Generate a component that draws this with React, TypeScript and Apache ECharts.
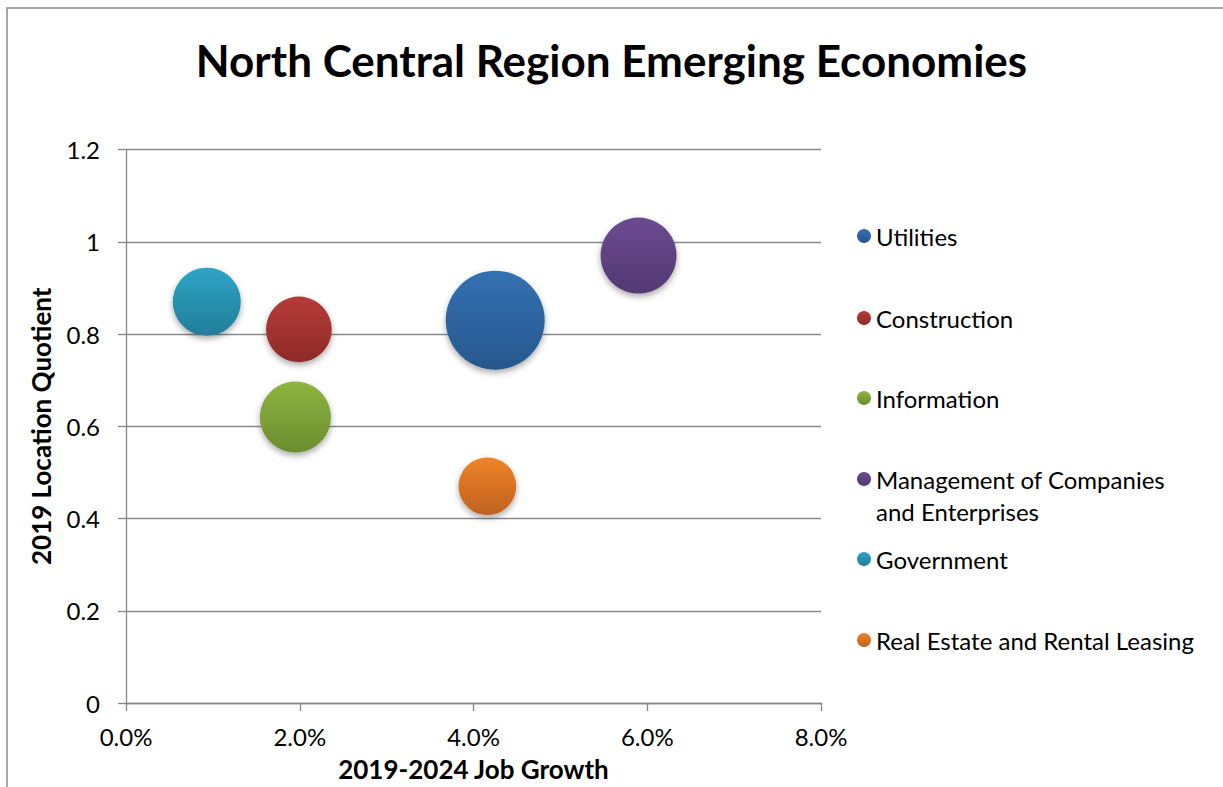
import React, { useEffect, useRef } from "react";
import * as echarts from "echarts";

const categories = [
  "Utilities",
  "Construction",
  "Information",
  "Management of Companies and Enterprises",
  "Government",
  "Real Estate and Rental Leasing",
];
const jobGrowth = [4.25, 1.99, 1.95, 5.9, 0.93, 4.16];
const locationQuotient = [0.83, 0.81, 0.62, 0.97, 0.87, 0.47];
const bubbleSize = [2450, 1076, 1260, 1444, 1156, 829];
const xTicks = [0, 2, 4, 6, 8];
const yTicks = [0, 0.2, 0.4, 0.6, 0.8, 1, 1.2];

const topColors = ["#3271b3", "#b63b38", "#8db540", "#6b4a91", "#2ea4c5", "#ef8328"];
const bottomColors = ["#27578c", "#8e2a27", "#6c8c2f", "#533972", "#217e99", "#bf621f"];

const legendTops = [238, 320, 400, 481, 561, 642];

const FONT = "Lato, 'Noto Sans', sans-serif";

export default function App() {
  const ref = useRef<HTMLDivElement>(null);
  useEffect(() => {
    if (!ref.current) return;
    const chart = echarts.init(ref.current, null, { renderer: "svg" });
    const series = categories.map((name, i) => ({
      name,
      type: "scatter",
      data: [[jobGrowth[i], locationQuotient[i], bubbleSize[i]]],
      symbolSize: (v: number[]) => 2 * Math.sqrt(v[2]),
      itemStyle: {
        color: new echarts.graphic.LinearGradient(0, 0, 0, 1, [
          { offset: 0, color: topColors[i] },
          { offset: 1, color: bottomColors[i] },
        ]),
        shadowBlur: 6,
        shadowOffsetY: 3,
        shadowColor: "rgba(0,0,0,0.35)",
        opacity: 1,
      },
      emphasis: { disabled: true },
    }));
    const legends = categories.map((name, i) => {
      const multi = name.startsWith("Management");
      return {
        data: [name],
        orient: "vertical",
        left: 857,
        top: multi ? legendTops[i] - 50 : legendTops[i] - 18,
        padding: 0,
        icon: "circle",
        itemWidth: 14,
        itemHeight: 14,
        selectedMode: false,
        formatter: multi ? "\nManagement of Companies\nand Enterprises" : "{name}",
        textStyle: {
          fontFamily: FONT,
          fontSize: 24,
          color: "#000",
          lineHeight: 32,
        },
      };
    });
    chart.setOption({
      animation: false,
      backgroundColor: "#fff",
      title: {
        text: "North Central Region Emerging Economies",
        left: "center",
        top: 33,
        textStyle: { fontFamily: FONT, fontSize: 44, fontWeight: "bold", color: "#000" },
      },
      graphic: [
        {
          type: "rect",
          shape: { x: 7, y: 8, width: 1240, height: 800 },
          style: { fill: "none", stroke: "#8a8a8a", lineWidth: 1.5 },
          silent: true,
        },
      ],
      legend: legends,
      grid: { left: 126, right: 402, top: 149.5, bottom: 79 },
      xAxis: {
        type: "value",
        min: xTicks[0],
        max: xTicks[xTicks.length - 1],
        interval: 2,
        name: "2019-2024 Job Growth",
        nameLocation: "middle",
        nameGap: 53,
        nameTextStyle: { fontFamily: FONT, fontSize: 26, fontWeight: "bold", color: "#000" },
        axisLine: { show: true, lineStyle: { color: "#868686", width: 1.3 } },
        axisTick: { show: true, length: 8, lineStyle: { color: "#868686", width: 1.3 } },
        axisLabel: {
          margin: 21,
          fontFamily: FONT,
          fontSize: 24,
          color: "#000",
          formatter: (v: number) => v.toFixed(1) + "%",
        },
        splitLine: { show: false },
      },
      yAxis: {
        type: "value",
        min: yTicks[0],
        max: yTicks[yTicks.length - 1],
        interval: 0.2,
        name: "2019 Location Quotient",
        nameLocation: "middle",
        nameGap: 72,
        nameTextStyle: { fontFamily: FONT, fontSize: 26, fontWeight: "bold", color: "#000" },
        axisLine: { show: true, lineStyle: { color: "#868686", width: 1.3 } },
        axisTick: { show: true, length: 8, lineStyle: { color: "#868686", width: 1.3 } },
        axisLabel: {
          margin: 26,
          fontFamily: FONT,
          fontSize: 24,
          color: "#000",
          formatter: (v: number) => String(Math.round(v * 10) / 10),
        },
        splitLine: { show: true, lineStyle: { color: "#8a8a8a", width: 1.3 } },
      },
      series,
    });
    return () => chart.dispose();
  }, []);
  return (
    <div
      ref={ref}
      style={{ position: "fixed", left: 0, top: 0, width: 1223, height: 787 }}
    />
  );
}
